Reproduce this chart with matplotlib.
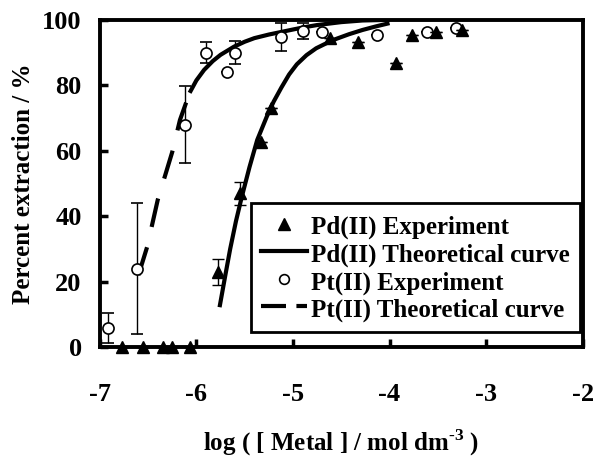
import matplotlib
matplotlib.use('Agg')
import matplotlib.pyplot as plt
from matplotlib.lines import Line2D

plt.rcParams['font.family'] = ['Liberation Serif', 'DejaVu Serif']
plt.rcParams['font.weight'] = 'bold'
plt.rcParams['mathtext.fontset'] = 'custom'
plt.rcParams['mathtext.bf'] = 'Liberation Serif:bold'
plt.rcParams['mathtext.rm'] = 'Liberation Serif:bold'

######################################################################
# Data
pd_x = [-6.77, -6.55, -6.35, -6.25, -6.07, -5.78, -5.55, -5.33, -5.23,
        -4.62, -4.33, -3.93, -3.77, -3.52, -3.25]
pd_y = [0, 0, 0, 0, 0, 23, 47, 62.7, 73, 94.5, 93.3, 86.8, 95.4, 96.3, 96.9]
pd_err = [0, 0, 0, 0, 0, 4, 3.5, 0, 0, 0, 0, 0, 0, 0, 0]

pt_x = [-6.92, -6.61, -6.12, -5.90, -5.68, -5.60, -5.12, -4.90, -4.70,
        -4.13, -3.61, -3.31]
pt_y = [5.8, 24, 68, 90, 84, 90, 94.8, 96.5, 96.3, 95.4, 96.3, 97.5]
pt_err = [4.5, 20, 11.7, 3.2, 0, 3.5, 4.3, 2.5, 0, 0, 0, 0]

# theoretical curves
pd_curve_x = [-5.76, -5.70, -5.65, -5.59, -5.53, -5.45, -5.37, -5.27, -5.20,
              -5.12, -5.04, -4.96, -4.86, -4.76, -4.65, -4.55, -4.42, -4.28,
              -4.14, -4.00]
pd_curve_y = [12.2, 22.0, 30.0, 38.5, 45.9, 55.0, 63.3, 70.5, 75.0,
              79.3, 83.3, 86.4, 89.2, 91.3, 92.9, 94.2, 95.6, 96.9,
              98.0, 99.0]

pt_dash_x = [-6.60, -6.51, -6.40, -6.25, -6.17, -6.07]
pt_dash_y = [22.0, 30.6, 45.0, 59.6, 69.4, 77.7]
pt_solid_x = [-6.07, -6.00, -5.92, -5.83, -5.75, -5.61, -5.50, -5.40, -5.25,
              -5.12, -4.99, -4.87, -4.75, -4.50, -4.28, -4.00]
pt_solid_y = [77.7, 81.5, 84.7, 87.4, 89.3, 91.8, 93.3, 94.4, 95.5,
              96.3, 97.1, 97.8, 98.4, 99.3, 99.8, 100]

xticks = [-7, -6, -5, -4, -3, -2]
yticks = [0, 20, 40, 60, 80, 100]

######################################################################
fig = plt.figure(figsize=(5.94, 4.61), dpi=100)
ax = fig.add_axes([0.168, 0.247, 0.813, 0.710])

lw = 3.0
ax.plot(pd_curve_x, pd_curve_y, color='black', lw=lw, solid_capstyle='butt')
ax.plot(pt_dash_x, pt_dash_y, color='black', lw=lw, linestyle=(0, (7, 5)),
        dash_capstyle='butt')
ax.plot(pt_solid_x, pt_solid_y, color='black', lw=lw, solid_capstyle='butt')

ax.errorbar(pt_x, pt_y, yerr=pt_err, fmt='o', mfc='white', mec='black',
            mew=1.2, ms=8, ecolor='black', elinewidth=1.0, capsize=4,
            capthick=1.0, clip_on=False, zorder=3)
ax.errorbar(pd_x, pd_y, yerr=pd_err, fmt='^', mfc='black', mec='black',
            ms=9, ecolor='black', elinewidth=1.0, capsize=4, capthick=1.0,
            clip_on=False, zorder=4)

ax.set_xlim(-7, -2)
ax.set_ylim(0, 100)
ax.set_xticks(xticks)
ax.set_yticks(yticks)
ax.set_xticklabels([str(t) for t in xticks])
ax.set_yticklabels([str(t) for t in yticks])
ax.tick_params(direction='in', length=6, width=2.5, labelsize=19)
ax.tick_params(axis='x', pad=26)
ax.tick_params(axis='y', pad=13)
for s in ax.spines.values():
    s.set_linewidth(2.8)

ax.set_xlabel('log ( [ Metal ] / mol dm$^{\\text{-3}}$ )', fontsize=18,
              fontweight='bold', labelpad=15)
ax.set_ylabel('Percent extraction / %', fontsize=18, fontweight='bold',
              labelpad=5)

handles = [
    Line2D([], [], color='black', marker='^', ls='none', ms=9),
    Line2D([], [], color='black', lw=lw),
    Line2D([], [], color='black', marker='o', mfc='white', ls='none', ms=7,
           mew=1.2),
    Line2D([], [], color='black', lw=lw, linestyle=(0, (6, 2.5))),
]
labels = ['Pd(II) Experiment', 'Pd(II) Theoretical curve',
          'Pt(II) Experiment', 'Pt(II) Theoretical curve']
leg = ax.legend(handles, labels, loc='lower right',
                bbox_to_anchor=(0.994, 0.046), fontsize=18, frameon=True,
                fancybox=False, edgecolor='black', framealpha=1,
                handlelength=1.85, handleheight=1.15, handletextpad=0.15,
                labelspacing=0.05, borderpad=0.4, borderaxespad=0)
leg.get_frame().set_linewidth(2.0)
for t in leg.get_texts():
    t.set_fontweight('bold')

fig.savefig('out.png', dpi=100)
